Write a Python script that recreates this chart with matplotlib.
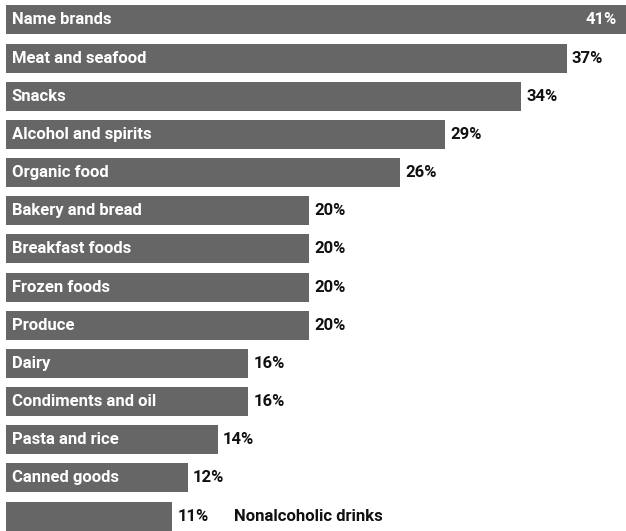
import numpy as np
import matplotlib
matplotlib.use("Agg")
import matplotlib.pyplot as plt

categories = ["Name brands", "Meat and seafood", "Snacks", "Alcohol and spirits",
              "Organic food", "Bakery and bread", "Breakfast foods", "Frozen foods",
              "Produce", "Dairy", "Condiments and oil", "Pasta and rice",
              "Canned goods", "Nonalcoholic drinks"]
values = [41, 37, 34, 29, 26, 20, 20, 20, 20, 16, 16, 14, 12, 11]

plt.rcParams['font.family'] = ['Roboto', 'DejaVu Sans']

fig = plt.figure(figsize=(6.26, 5.31), dpi=100)
ax = fig.add_axes([0, 0, 1, 1])
y = np.arange(len(values))
ax.barh(y, values, height=0.76, color="#666666")
ax.set_xlim(-0.37, 40.9)
ax.set_ylim(13.39, -0.524)
ax.axis("off")

fs = 12
for i, (cat, v) in enumerate(zip(categories, values)):
    if i == 0:
        ax.text(0.4, i, cat, color="white", fontsize=fs, fontweight="bold", va="center", ha="left")
        ax.text(40.3, i, f"{v}%", color="white", fontsize=fs, fontweight="bold", va="center", ha="right")
    elif i == len(values) - 1:
        ax.text(v + 0.33, i, f"{v}%", color="#111111", fontsize=fs, fontweight="bold", va="center", ha="left")
        ax.text(v + 4.06, i, cat, color="#111111", fontsize=fs, fontweight="bold", va="center", ha="left")
    else:
        ax.text(0.4, i, cat, color="white", fontsize=fs, fontweight="bold", va="center", ha="left")
        ax.text(v + 0.33, i, f"{v}%", color="#111111", fontsize=fs, fontweight="bold", va="center", ha="left")

fig.savefig("out.png", dpi=100)
